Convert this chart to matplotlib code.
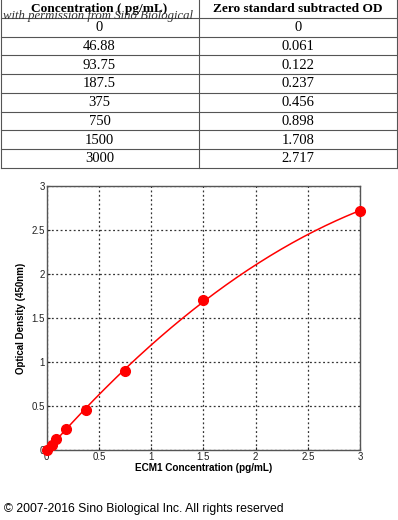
import numpy as np
import matplotlib.pyplot as plt

conc_pg = ["0", "46.88", "93.75", "187.5", "375", "750", "1500", "3000"]
od_text = ["0", "0.061", "0.122", "0.237", "0.456", "0.898", "1.708", "2.717"]
conc = [0, 46.88, 93.75, 187.5, 375, 750, 1500, 3000]
od = [0, 0.061, 0.122, 0.237, 0.456, 0.898, 1.708, 2.717]
headers = ["Concentration ( pg/mL)", "Zero standard subtracted OD"]

W, H = 398, 520
fig = plt.figure(figsize=(W / 100, H / 100), dpi=100)

# table drawn in pixel coords
tab = fig.add_axes([0, 0, 1, 1])
tab.set_xlim(0, W)
tab.set_ylim(H, 0)
tab.axis('off')
row_y = [0, 18] + [18 + 18.7 * (i + 1) for i in range(len(conc_pg))]
for y in row_y[1:]:
    tab.plot([0.5, 397], [y, y], color='#555555', lw=0.8)
for x in [0.5, 199, 397]:
    tab.plot([x, x], [0, row_y[-1]], color='#555555', lw=0.8)
serif = 'Liberation Serif'
tab.text(99.5, 9, headers[0], ha='center', va='center', family=serif, weight='bold', fontsize=9.6)
tab.text(298, 9, headers[1], ha='center', va='center', family=serif, weight='bold', fontsize=9.6)
for i in range(len(conc_pg)):
    yc = (row_y[i + 1] + row_y[i + 2]) / 2 + 0.5
    tab.text(99.5, yc, conc_pg[i], ha='center', va='center', family=serif, fontsize=10.5)
    tab.text(298, yc, od_text[i], ha='center', va='center', family=serif, fontsize=10.5)
tab.text(3, 16, "with permission from Sino Biological", ha='left', va='center',
         family=serif, style='italic', fontsize=9.2, color='#333333')
tab.text(4, 509, "\u00a9 2007-2016 Sino Biological Inc. All rights reserved",
         ha='left', va='center', family='Liberation Sans', fontsize=8.8)

# standard curve
ax = fig.add_axes([46.7 / W, 1 - 450 / H, (360 - 46.7) / W, (450 - 186) / H])
x = np.array(conc) / 1000
y = np.array(od)
coef = np.polyfit(x, y, 2)
xf = np.linspace(0, 3, 200)
ax.plot(xf, np.polyval(coef, xf), color='red', lw=1.1)
ax.plot(x, y, 'o', color='red', ms=7, clip_on=False, zorder=5)
ax.set_xlim(0, 3)
ax.set_ylim(0, 3)
ticks = [0, 0.5, 1, 1.5, 2, 2.5, 3]
ax.set_xticks(ticks)
ax.set_yticks(ticks)
ax.set_xticklabels(["0", "0.5", "1", "1.5", "2", "2.5", "3"])
ax.set_yticklabels(["0", "0.5", "1", "1.5", "2", "2.5", "3"])
ax.grid(True, linestyle=(0, (1.5, 2)), color='#333333', lw=0.9)
ax.tick_params(direction='in', length=2, pad=1.5, labelsize=7, colors='#222222')
for s in ax.spines.values():
    s.set_color('#555555')
    s.set_linewidth(1)
for lab in ax.get_xticklabels() + ax.get_yticklabels():
    lab.set_family('Liberation Sans')
ax.set_xlabel("ECM1 Concentration (pg/mL)", family='Liberation Sans', weight='bold', fontsize=7.2, labelpad=1)
ax.set_ylabel("Optical Density (450nm)", family='Liberation Sans', weight='bold', fontsize=7, labelpad=4)

fig.savefig('out.png', dpi=100)
